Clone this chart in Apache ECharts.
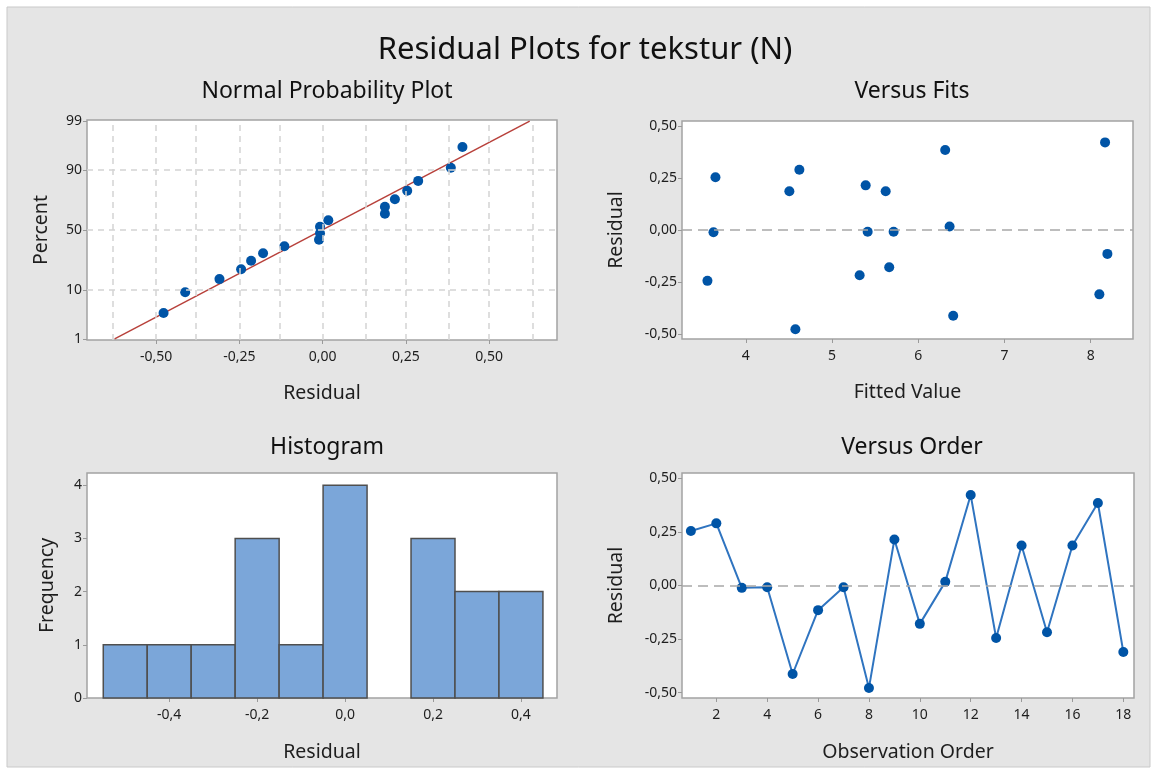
<!DOCTYPE html>
<html>
<head>
<meta charset="utf-8">
<title>Residual Plots for tekstur (N)</title>
<script src="https://cdn.jsdelivr.net/npm/echarts@6/dist/echarts.min.js"></script>
<style>
html,body{margin:0;padding:0;background:#fff;}
#chart{width:1157px;height:774px;}
</style>
</head>
<body>
<div id="chart"></div>
<script>
// residuals in observation order, and the fitted values that go with them
var order = [1, 2, 3, 4, 5, 6, 7, 8, 9, 10, 11, 12, 13, 14, 15, 16, 17, 18];
var residuals = [0.254, 0.290, -0.011, -0.008, -0.413, -0.115, -0.008, -0.478, 0.215, -0.179, 0.017, 0.422, -0.245, 0.187, -0.218, 0.187, 0.385, -0.310];
var fits = [3.648, 4.621, 3.625, 5.413, 6.405, 8.193, 5.714, 4.575, 5.390, 5.663, 6.363, 8.166, 3.555, 4.505, 5.320, 5.622, 6.312, 8.100];

// normal probability plot (sorted residuals vs percent)
var nppResidual = [-0.478, -0.413, -0.310, -0.245, -0.215, -0.179, -0.115, -0.011, -0.008, -0.008, 0.017, 0.187, 0.187, 0.217, 0.254, 0.287, 0.385, 0.420];
var nppPercent = [3.8, 9.2, 14.7, 20.1, 25.5, 31.0, 36.4, 41.8, 47.3, 52.7, 58.2, 63.6, 69.0, 74.5, 79.9, 85.3, 90.8, 96.2];
var fitLineResidual = [-0.625, 0.622];
var fitLinePercent = [1, 99];
var percentTicks = [1, 10, 50, 90, 99];
var percentGrid = [10, 50, 90];
var nppTicks = [-0.5, -0.25, 0, 0.25, 0.5];
var nppGrid = [-0.625, -0.5, -0.375, -0.25, -0.125, 0, 0.125, 0.25, 0.375, 0.5, 0.625];

// histogram
var binCenters = [-0.5, -0.4, -0.3, -0.2, -0.1, 0.0, 0.1, 0.2, 0.3, 0.4];
var binFreq = [1, 1, 1, 3, 1, 4, 0, 3, 2, 2];
var binWidth = 0.1;
var histTicks = [-0.4, -0.2, 0, 0.2, 0.4];
var freqTicks = [0, 1, 2, 3, 4];

var residTicks = [-0.5, -0.25, 0, 0.25, 0.5];
var fitTicks = [4, 5, 6, 7, 8];
var orderTicks = [2, 4, 6, 8, 10, 12, 14, 16, 18];

// inverse normal cdf (Acklam), used as the probability scale of the percent axis
function probit(p) {
	var a = [-3.969683028665376e+01, 2.209460984245205e+02, -2.759285104469687e+02, 1.383577518672690e+02, -3.066479806614716e+01, 2.506628277459239e+00];
	var b = [-5.447609879822406e+01, 1.615858368580409e+02, -1.556989798598866e+02, 6.680131188771972e+01, -1.328068155288572e+01];
	var c = [-7.784894002430293e-03, -3.223964580411365e-01, -2.400758277161838e+00, -2.549671013124587e+00, 4.374664141464968e+00, 2.938163982698783e+00];
	var d = [7.784695709041462e-03, 3.224671290700398e-01, 2.445134137142996e+00, 3.754408661907416e+00];
	var pl = 0.02425, q, r;
	if (p < pl) {
		q = Math.sqrt(-2 * Math.log(p));
		return (((((c[0]*q+c[1])*q+c[2])*q+c[3])*q+c[4])*q+c[5]) / ((((d[0]*q+d[1])*q+d[2])*q+d[3])*q+1);
	}
	if (p > 1 - pl) {
		q = Math.sqrt(-2 * Math.log(1 - p));
		return -(((((c[0]*q+c[1])*q+c[2])*q+c[3])*q+c[4])*q+c[5]) / ((((d[0]*q+d[1])*q+d[2])*q+d[3])*q+1);
	}
	q = p - 0.5; r = q * q;
	return (((((a[0]*r+a[1])*r+a[2])*r+a[3])*r+a[4])*r+a[5])*q / (((((b[0]*r+b[1])*r+b[2])*r+b[3])*r+b[4])*r+1);
}
function z(pct) { return probit(pct / 100); }
function comma(v, d) { return v.toFixed(d).replace('.', ','); }

var font = 'Noto Sans';
var dotColor = '#0054a6';
var labelStyle = { color: '#1e1e1e', fontSize: 14, fontFamily: font };
var nameStyle = { color: '#1e1e1e', fontSize: 19.5, fontFamily: font };
var titleStyle = { fontFamily: font, fontSize: 23, fontWeight: 'normal', color: '#111' };

function gridBox(left, top, width, height) {
	return { left: left, top: top, width: width, height: height, show: true,
		backgroundColor: '#fff', borderColor: '#a3a3a3', borderWidth: 1.5 };
}
function axis(opt) {
	return {
		type: 'value', gridIndex: opt.grid, min: opt.min, max: opt.max,
		name: opt.name, nameLocation: 'middle', nameGap: opt.gap, nameTextStyle: nameStyle,
		axisLine: { show: false, onZero: false }, splitLine: { show: false },
		axisTick: { show: true, length: 4, lineStyle: { color: '#9a9a9a' }, customValues: opt.ticks },
		axisLabel: Object.assign({ margin: opt.margin || 8, customValues: opt.ticks, formatter: opt.fmt }, labelStyle)
	};
}

var percentZ = percentTicks.map(z);

var nppData = nppResidual.map(function (r, i) { return [r, z(nppPercent[i])]; });
var nppLine = fitLineResidual.map(function (r, i) { return [r, z(fitLinePercent[i])]; });
var nppGridLines = nppGrid.map(function (x) { return { xAxis: x }; })
	.concat(percentGrid.map(function (p) { return { yAxis: z(p) }; }));
var fitsData = fits.map(function (f, i) { return [f, residuals[i]]; });
var orderData = order.map(function (o, i) { return [o, residuals[i]]; });
var histData = binCenters.map(function (c, i) { return [c, binFreq[i]]; });

var chart = echarts.init(document.getElementById('chart'));

var option = {
	backgroundColor: '#fff',
	animation: false,
	graphic: [{
		type: 'rect', z: -10, silent: true,
		shape: { x: 7, y: 7, width: 1143, height: 760 },
		style: { fill: '#e5e5e5', stroke: '#c9c9c9', lineWidth: 1 }
	}],
	title: [
		{ text: 'Residual Plots for tekstur (N)', left: 580, top: 30, textAlign: 'center',
			textStyle: { fontFamily: font, fontSize: 31, fontWeight: 'normal', color: '#111' } },
		{ text: 'Normal Probability Plot', left: 322, top: 75, textAlign: 'center', textStyle: titleStyle },
		{ text: 'Versus Fits', left: 907, top: 75, textAlign: 'center', textStyle: titleStyle },
		{ text: 'Histogram', left: 322, top: 431, textAlign: 'center', textStyle: titleStyle },
		{ text: 'Versus Order', left: 907, top: 431, textAlign: 'center', textStyle: titleStyle }
	],
	grid: [
		gridBox(87, 120, 470, 220),
		gridBox(682, 121, 451, 218),
		gridBox(87, 473, 470, 225),
		gridBox(682, 473, 452, 225)
	],
	xAxis: [
		axis({ grid: 0, min: -0.708, max: 0.704, ticks: nppTicks, name: 'Residual', gap: 43, margin: 10,
			fmt: function (v) { return comma(v, 2); } }),
		axis({ grid: 1, min: 3.26, max: 8.49, ticks: fitTicks, name: 'Fitted Value', gap: 43, margin: 10,
			fmt: function (v) { return String(v); } }),
		axis({ grid: 2, min: -0.587, max: 0.482, ticks: histTicks, name: 'Residual', gap: 44, margin: 10,
			fmt: function (v) { return comma(v, 1); } }),
		axis({ grid: 3, min: 0.65, max: 18.42, ticks: orderTicks, name: 'Observation Order', gap: 44, margin: 10,
			fmt: function (v) { return String(v); } })
	],
	yAxis: [
		axis({ grid: 0, min: -2.35, max: 2.35, ticks: percentZ, name: 'Percent', gap: 36, margin: 5,
			fmt: function (v) {
				for (var i = 0; i < percentZ.length; i++) {
					if (Math.abs(percentZ[i] - v) < 1e-6) return String(percentTicks[i]);
				}
				return '';
			} }),
		axis({ grid: 1, min: -0.525, max: 0.525, ticks: residTicks, name: 'Residual', gap: 56, margin: 5,
			fmt: function (v) { return comma(v, 2); } }),
		axis({ grid: 2, min: 0, max: 4.23, ticks: freqTicks, name: 'Frequency', gap: 30, margin: 5,
			fmt: function (v) { return String(v); } }),
		axis({ grid: 3, min: -0.525, max: 0.525, ticks: residTicks, name: 'Residual', gap: 56, margin: 5,
			fmt: function (v) { return comma(v, 2); } })
	],
	series: [
		{
			type: 'line', xAxisIndex: 0, yAxisIndex: 0, data: [], z: 1, silent: true,
			markLine: {
				silent: true, symbol: 'none', label: { show: false }, animation: false,
				lineStyle: { type: [6, 5], color: '#d3d3d3', width: 1.5 },
				data: nppGridLines
			}
		},
		{
			type: 'line', xAxisIndex: 0, yAxisIndex: 0, data: nppLine, z: 2,
			symbol: 'none', lineStyle: { color: '#b8413b', width: 1.5 }
		},
		{
			type: 'scatter', xAxisIndex: 0, yAxisIndex: 0, data: nppData, z: 3,
			symbolSize: 10, itemStyle: { color: dotColor, opacity: 1 }
		},
		{
			type: 'scatter', xAxisIndex: 1, yAxisIndex: 1, data: fitsData, z: 3,
			symbolSize: 10, itemStyle: { color: dotColor, opacity: 1 },
			markLine: {
				silent: true, symbol: 'none', label: { show: false },
				lineStyle: { type: [10, 6], color: '#a8a8a8', width: 1.5 },
				data: [{ yAxis: 0 }]
			}
		},
		{
			type: 'custom', xAxisIndex: 2, yAxisIndex: 2, data: histData,
			renderItem: function (params, api) {
				var c = api.value(0), f = api.value(1);
				if (!f) return null;
				var p0 = api.coord([c - binWidth / 2, f]);
				var p1 = api.coord([c + binWidth / 2, 0]);
				return {
					type: 'rect',
					shape: { x: p0[0], y: p0[1], width: p1[0] - p0[0], height: p1[1] - p0[1] },
					style: { fill: '#7ba6d9', stroke: '#4f4f4f', lineWidth: 1.5 }
				};
			}
		},
		{
			type: 'line', xAxisIndex: 3, yAxisIndex: 3, data: orderData, z: 3,
			symbol: 'circle', symbolSize: 10,
			itemStyle: { color: dotColor },
			lineStyle: { color: '#2f74c0', width: 2 },
			markLine: {
				silent: true, symbol: 'none', label: { show: false },
				lineStyle: { type: [10, 6], color: '#a8a8a8', width: 1.5 },
				data: [{ yAxis: 0 }]
			}
		}
	]
};

chart.setOption(option);
window.addEventListener('resize', function () {
	chart.resize();
});
</script>
</body>
</html>
